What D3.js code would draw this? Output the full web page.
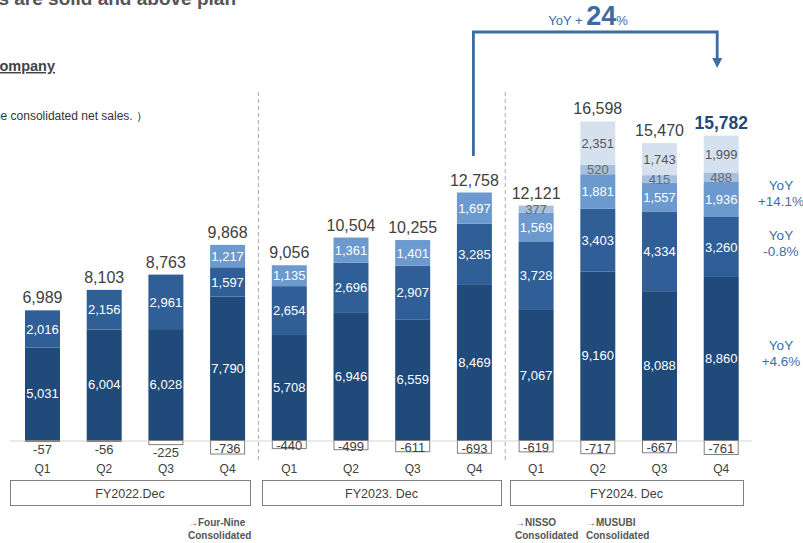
<!DOCTYPE html>
<html>
<head>
<meta charset="utf-8">
<script src="https://cdn.jsdelivr.net/npm/d3@7"></script>
<style>
  html, body { margin: 0; padding: 0; background: #fff; }
  svg { display: block; font-family: "Liberation Sans", Arial, sans-serif; }
</style>
</head>
<body>
<svg id="chart" width="803" height="543"></svg>
<script>
// Quarterly net sales by company (consolidated), FY2022–FY2024
const quarterLabels = ["Q1","Q2","Q3","Q4","Q1","Q2","Q3","Q4","Q1","Q2","Q3","Q4"];
const fiscalYears   = ["FY2022.Dec", "FY2023. Dec", "FY2024. Dec"];
const totals        = [6989, 8103, 8763, 9868, 9056, 10504, 10255, 12758, 12121, 16598, 15470, 15782];
const coreSales     = [5031, 6004, 6028, 7790, 5708, 6946, 6559, 8469, 7067, 9160, 8088, 8860];
const groupSales    = [2016, 2156, 2961, 1597, 2654, 2696, 2907, 3285, 3728, 3403, 4334, 3260];
const fourNine      = [0, 0, 0, 1217, 1135, 1361, 1401, 1697, 1569, 1881, 1557, 1936];
const nisso         = [0, 0, 0, 0, 0, 0, 0, 0, 377, 520, 415, 488];
const musubi        = [0, 0, 0, 0, 0, 0, 0, 0, 0, 2351, 1743, 1999];
const eliminations  = [-57, -56, -225, -736, -440, -499, -611, -693, -619, -717, -667, -761];
const yoyLabels     = [["YoY", "+14.1%"], ["YoY", "-0.8%"], ["YoY", "+4.6%"]];
const consolidationNotes = [
  { at: 3, lines: ["→Four-Nine", "Consolidated"] },
  { at: 8, lines: ["→NISSO", "Consolidated"] },
  { at: 9, lines: ["→MUSUBI", "Consolidated"] }
];

const seriesKeys   = ["coreSales", "groupSales", "fourNine", "nisso", "musubi"];
const seriesFill   = ["#1f4a7a", "#2f5f96", "#6c99ce", "#a7c0de", "#d5e1ef"];
const seriesText   = ["#ffffff", "#ffffff", "#ffffff", "#6b6b6b", "#555555"];

const rows = quarterLabels.map((q, i) => ({
  idx: i, quarter: q, total: totals[i],
  coreSales: coreSales[i], groupSales: groupSales[i], fourNine: fourNine[i],
  nisso: nisso[i], musubi: musubi[i], elim: eliminations[i]
}));

const svg = d3.select("#chart");

const x = d3.scaleBand()
  .domain(rows.map(d => d.idx))
  .range([25, 738.7])
  .paddingInner(0.433)
  .paddingOuter(0);

const baseY = 440;
const y = d3.scaleLinear().domain([0, 10000]).range([baseY, baseY - 184]);

const stacked = d3.stack().keys(seriesKeys)(rows);

// Header text, partially outside the frame
svg.append("text")
  .attr("x", 236).attr("y", 5)
  .attr("text-anchor", "end")
  .attr("font-size", 19).attr("font-weight", "bold").attr("fill", "#555")
  .text("Results are solid and above plan");

svg.append("text")
  .attr("x", 55).attr("y", 71)
  .attr("text-anchor", "end")
  .attr("font-size", 14.5).attr("font-weight", "bold").attr("fill", "#444")
  .attr("text-decoration", "underline")
  .text("Company");

svg.append("text")
  .attr("x", 148).attr("y", 120)
  .attr("text-anchor", "end")
  .attr("font-size", 12).attr("fill", "#333")
  .text("（Figures are the consolidated net sales. ）");

// Fiscal year separators
[3.5, 7.5].forEach(b => {
  const xs = (x(Math.floor(b)) + x.bandwidth() + x(Math.ceil(b))) / 2;
  svg.append("line")
    .attr("x1", xs).attr("x2", xs).attr("y1", 92).attr("y2", 460)
    .attr("stroke", "#aaa").attr("stroke-width", 1)
    .attr("stroke-dasharray", "4,3");
});

// Baseline
svg.append("line")
  .attr("x1", 10).attr("x2", 752).attr("y1", baseY + 1).attr("y2", baseY + 1)
  .attr("stroke", "#d4d4d4").attr("stroke-width", 1);

// Stacked positive segments
const layers = svg.append("g").selectAll("g")
  .data(stacked).join("g")
  .attr("fill", (d, i) => seriesFill[i]);

layers.selectAll("rect")
  .data(d => d.filter(s => s[1] - s[0] > 0))
  .join("rect")
  .attr("x", s => x(s.data.idx))
  .attr("width", x.bandwidth())
  .attr("y", s => y(s[1]))
  .attr("height", s => y(s[0]) - y(s[1]));

// Segment value labels
stacked.forEach((layer, li) => {
  svg.append("g").selectAll("text")
    .data(layer.filter(s => s[1] - s[0] > 0))
    .join("text")
    .attr("x", s => x(s.data.idx) + x.bandwidth() / 2)
    .attr("y", s => (y(s[0]) + y(s[1])) / 2)
    .attr("dy", "0.36em")
    .attr("text-anchor", "middle")
    .attr("font-size", 13)
    .attr("fill", seriesText[li])
    .text(s => d3.format(",")(s[1] - s[0]));
});

// Negative adjustments below the baseline
const negH = d => y(0) - y(-d.elim);
svg.append("g").selectAll("rect")
  .data(rows).join("rect")
  .attr("x", d => x(d.idx) + 0.5)
  .attr("width", x.bandwidth() - 1)
  .attr("y", baseY + 0.5)
  .attr("height", d => Math.max(1, negH(d)))
  .attr("fill", "#fff").attr("stroke", "#808080").attr("stroke-width", 1);

svg.append("g").selectAll("text")
  .data(rows).join("text")
  .attr("x", d => x(d.idx) + x.bandwidth() / 2)
  .attr("y", d => {
    const h = negH(d);
    return h >= 8 ? baseY + h / 2 + 1.5 : baseY + h + 8;
  })
  .attr("dy", "0.36em")
  .attr("text-anchor", "middle")
  .attr("font-size", 13).attr("fill", "#404040")
  .text(d => d3.format(",")(d.elim).replace("−", "-"));

// Totals above bars
const posTop = d => y(d.coreSales + d.groupSales + d.fourNine + d.nisso + d.musubi);
svg.append("g").selectAll("text")
  .data(rows).join("text")
  .attr("x", d => x(d.idx) + x.bandwidth() / 2)
  .attr("y", d => posTop(d) - 7)
  .attr("text-anchor", "middle")
  .attr("font-size", d => d.idx === 11 ? 17.5 : 16)
  .attr("font-weight", d => d.idx === 11 ? "bold" : "normal")
  .attr("fill", d => d.idx === 11 ? "#1f4a7a" : "#404040")
  .text(d => d3.format(",")(d.total));

// Quarter labels
svg.append("g").selectAll("text")
  .data(rows).join("text")
  .attr("x", d => x(d.idx) + x.bandwidth() / 2)
  .attr("y", 473)
  .attr("text-anchor", "middle")
  .attr("font-size", 12).attr("fill", "#404040")
  .text(d => d.quarter);

// Fiscal year boxes
const yearBoxes = [[10, 250], [262, 501], [510, 743]];
fiscalYears.forEach((fy, i) => {
  const [x0, x1] = yearBoxes[i];
  svg.append("rect")
    .attr("x", x0 + 0.5).attr("y", 480.5)
    .attr("width", x1 - x0).attr("height", 25)
    .attr("fill", "#fff").attr("stroke", "#808080").attr("stroke-width", 1);
  svg.append("text")
    .attr("x", (x0 + x1) / 2).attr("y", 493)
    .attr("dy", "0.36em")
    .attr("text-anchor", "middle")
    .attr("font-size", 12.5).attr("fill", "#404040")
    .text(fy);
});

// Consolidation notes
const noteX = [188, 515, 586];
consolidationNotes.forEach((n, i) => {
  const t = svg.append("text")
    .attr("x", noteX[i]).attr("y", 526)
    .attr("font-size", 10).attr("font-weight", "bold").attr("fill", "#555");
  n.lines.forEach((ln, j) => {
    t.append("tspan").attr("x", noteX[i]).attr("dy", j === 0 ? 0 : 13).text(ln);
  });
});

// YoY arrow from FY2023 Q4 to FY2024 Q4
const ax0 = x(7) + x.bandwidth() / 2 - 1;
const ax1 = x(11) + x.bandwidth() / 2 - 4;
const arrowColor = "#3b6ca3";
svg.append("path")
  .attr("d", `M${ax0},156 V32 H${ax1} V60`)
  .attr("fill", "none").attr("stroke", arrowColor).attr("stroke-width", 2.8);
svg.append("path")
  .attr("d", `M${ax1 - 5},58 L${ax1 + 5},58 L${ax1},68 Z`)
  .attr("fill", arrowColor);

const yoyTop = svg.append("text")
  .attr("x", 588).attr("y", 25)
  .attr("text-anchor", "middle")
  .attr("fill", arrowColor);
yoyTop.append("tspan").attr("font-size", 13).text("YoY + ");
yoyTop.append("tspan").attr("font-size", 27).attr("font-weight", "bold").text("24");
yoyTop.append("tspan").attr("font-size", 13).text("%");

// YoY labels on the right
const yoyY = [185, 235, 345];
yoyLabels.forEach((lbl, i) => {
  const t = svg.append("text")
    .attr("x", 781).attr("y", yoyY[i] + 5)
    .attr("text-anchor", "middle")
    .attr("font-size", 13.5).attr("fill", "#3a70a8");
  t.append("tspan").attr("x", 781).attr("dy", 0).text(lbl[0]);
  t.append("tspan").attr("x", 781).attr("dy", 16).text(lbl[1]);
});
</script>
</body>
</html>
